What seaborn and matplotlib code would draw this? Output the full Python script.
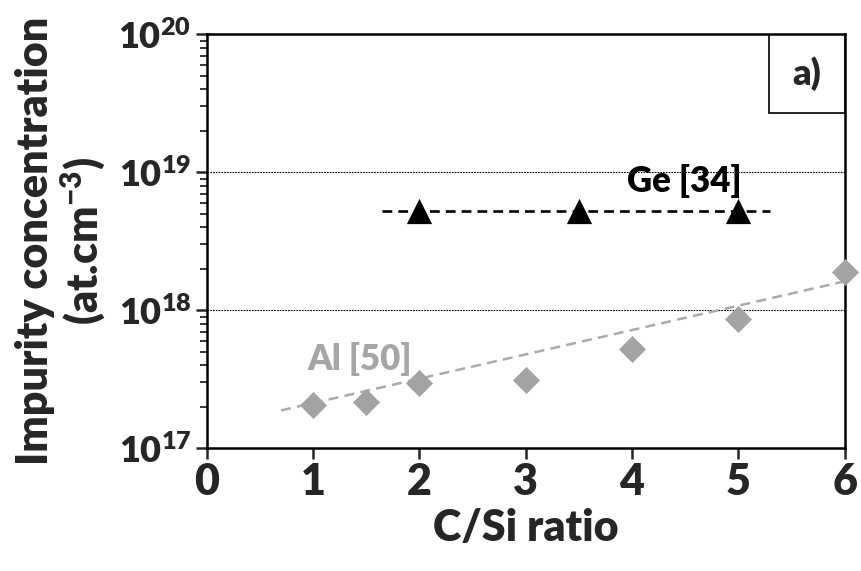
import numpy as np
import pandas as pd
import matplotlib
matplotlib.use("Agg")
import matplotlib.pyplot as plt
from matplotlib.patches import Rectangle
from matplotlib.ticker import LogLocator, FixedLocator, NullFormatter
import seaborn as sns

# ---- data ----
al_x = [1.0, 1.5, 2.0, 3.0, 4.0, 5.0, 6.0]
al_y = [2.05e17, 2.15e17, 2.95e17, 3.1e17, 5.2e17, 8.6e17, 1.9e18]
al_fit_x = [0.7, 6.0]
al_fit_y = [1.88e17, 1.62e18]
ge_x = [2.0, 3.5, 5.0]
ge_y = [5.2e18, 5.2e18, 5.2e18]
ge_line_x = [1.65, 5.3]
ge_line_y = [5.2e18, 5.2e18]
x_ticks = [0, 1, 2, 3, 4, 5, 6]
y_ticks = [1e17, 1e18, 1e19, 1e20]
y_ticklabels = ["10$^{17}$", "10$^{18}$", "10$^{19}$", "10$^{20}$"]

sns.set_style("white")
plt.rcParams["font.family"] = ["Lato", "DejaVu Sans"]
plt.rcParams["mathtext.default"] = "regular"

W = "heavy"
GREY = "#a3a3a3"

fig, ax = plt.subplots(figsize=(8.61, 5.71), dpi=100)
fig.subplots_adjust(left=0.240, right=0.981, top=0.940, bottom=0.215)

ax.set_yscale("log")
ax.set_xlim(0, 6)
ax.set_ylim(1e17, 1e20)

# grid lines at 1e18, 1e19
for g in [1e18, 1e19]:
    ax.axhline(g, color="black", lw=0.8, ls=(0, (1.5, 1.0)), zorder=1)

fit_df = pd.DataFrame({"x": al_fit_x, "y": al_fit_y})
sns.lineplot(data=fit_df, x="x", y="y", ax=ax, color="#ababab", lw=1.8,
             linestyle=(0, (4, 2.5)), zorder=2)
ge_line_df = pd.DataFrame({"x": ge_line_x, "y": ge_line_y})
sns.lineplot(data=ge_line_df, x="x", y="y", ax=ax, color="black", lw=1.9,
             linestyle=(0, (3.7, 2.3)), zorder=2)

al_df = pd.DataFrame({"x": al_x, "y": al_y})
sns.scatterplot(data=al_df, x="x", y="y", ax=ax, marker="D", s=190,
                color=GREY, edgecolor=GREY, linewidth=0, zorder=3, clip_on=False)
ge_df = pd.DataFrame({"x": ge_x, "y": ge_y})
sns.scatterplot(data=ge_df, x="x", y="y", ax=ax, marker="^", s=330,
                color="black", edgecolor="black", linewidth=0, zorder=4)

ax.text(4.49, 8.7e18, "Ge [34]", fontsize=25, fontweight=W, color="black",
        ha="center", va="center", zorder=5)
ax.text(1.44, 4.4e17, "Al [50]", fontsize=25, fontweight=W, color="#a6a6a6",
        ha="center", va="center", zorder=5)

# a) box
ax.add_patch(Rectangle((0.882, 0.809), 0.118, 0.191, transform=ax.transAxes,
                       fill=False, edgecolor="black", lw=1.2, zorder=6))
ax.text(0.941, 0.905, "a)", transform=ax.transAxes, fontsize=26,
        fontweight=W, ha="center", va="center", zorder=7)

# ticks
ax.xaxis.set_major_locator(FixedLocator(x_ticks))
ax.set_xticklabels([str(t) for t in x_ticks])
ax.yaxis.set_major_locator(FixedLocator(y_ticks))
ax.set_yticklabels(y_ticklabels)
ax.yaxis.set_minor_locator(LogLocator(base=10, subs=np.arange(2, 10), numticks=20))
ax.yaxis.set_minor_formatter(NullFormatter())

ax.tick_params(axis="both", which="major", direction="out", length=8, width=1.8)
ax.tick_params(axis="x", labelsize=31, pad=2)
ax.tick_params(axis="y", labelsize=26, pad=3)
ax.tick_params(axis="y", which="minor", direction="out", length=5, width=1.3, left=True)
ax.tick_params(axis="x", bottom=True)
ax.tick_params(axis="y", left=True)
for lab in ax.get_xticklabels() + ax.get_yticklabels():
    lab.set_fontweight(W)

for side in ["left", "bottom", "top", "right"]:
    ax.spines[side].set_visible(True)
    ax.spines[side].set_color("black")
    ax.spines[side].set_linewidth(1.8)

ax.set_xlabel("C/Si ratio", fontsize=31, fontweight=W, labelpad=4)
ax.set_ylabel("Impurity concentration\n(at.cm$^{-3}$)", fontsize=31,
              fontweight=W, linespacing=1.1)
ax.yaxis.set_label_coords(-0.155, 0.5)

fig.savefig("out.png", dpi=100)
